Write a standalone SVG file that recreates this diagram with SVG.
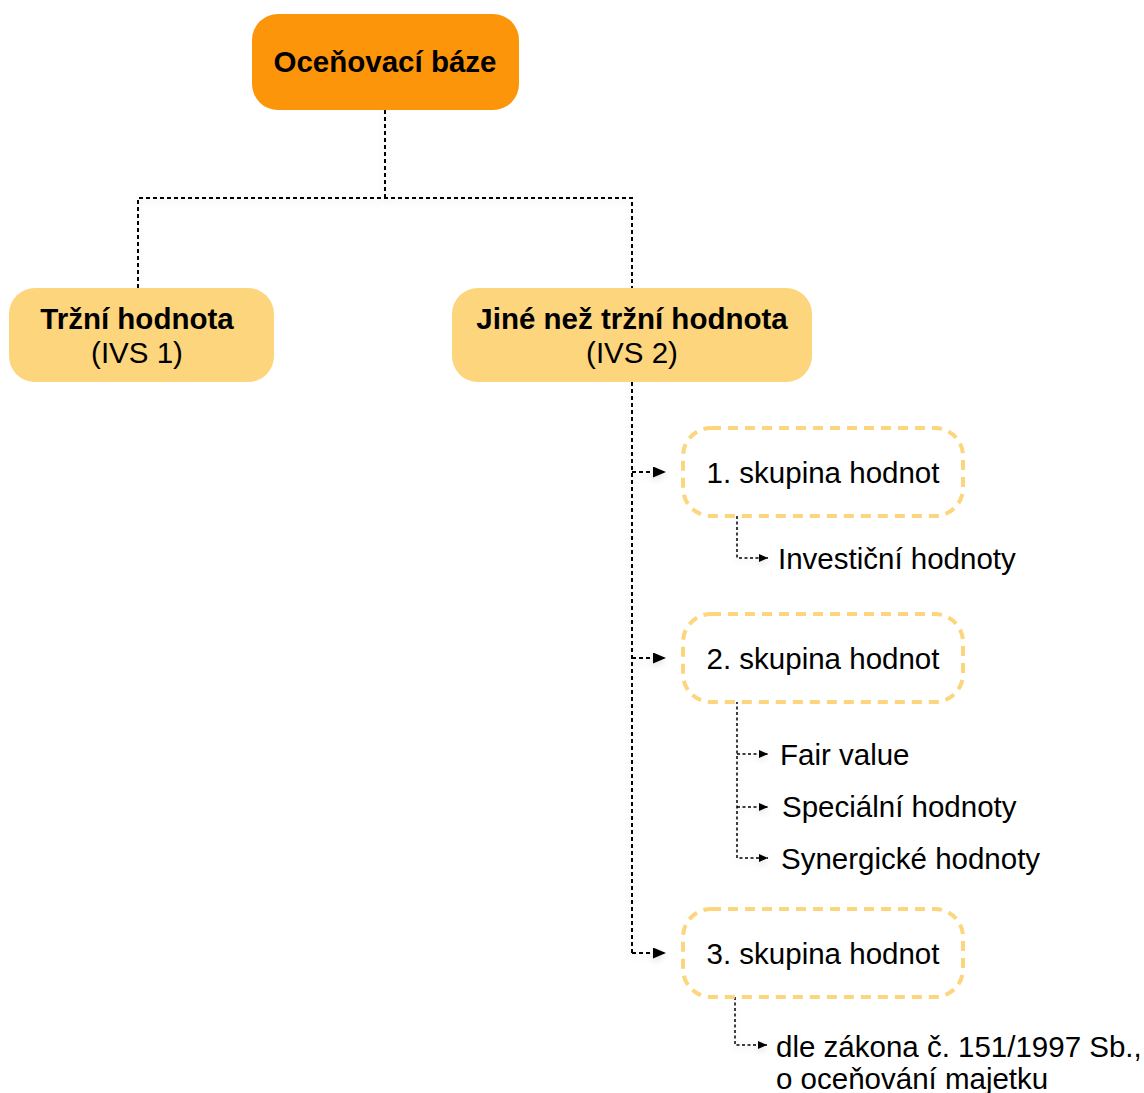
<svg xmlns="http://www.w3.org/2000/svg" width="1144" height="1093" viewBox="0 0 1144 1093">
  <style>
    text { font-family: "Liberation Sans", Arial, Helvetica, sans-serif; fill: #000; font-size: 29.5px; }
    .bold { font-weight: bold; }
    .mid { text-anchor: middle; }
    .solid-main { fill: #FD950A; }
    .solid-sub { fill: #FCD57C; }
    .group-box { fill: #fff; stroke: #FCD57C; stroke-width: 4; stroke-dasharray: 10 7; }
    .link { fill: none; stroke: #000; stroke-width: 2; stroke-dasharray: 4 3; }
    .link-thin { fill: none; stroke: #000; stroke-width: 1.5; stroke-dasharray: 3 2.5; }
  </style>
  <defs>
    <filter id="soft" x="-20%" y="-20%" width="140%" height="140%">
      <feDropShadow dx="0" dy="3" stdDeviation="3" flood-color="#000" flood-opacity="0.12"/>
    </filter>
    <marker id="head" viewBox="0 0 13 11" refX="13" refY="5.5" markerWidth="13" markerHeight="11" markerUnits="userSpaceOnUse" orient="auto">
      <path d="M0,0 L13,5.5 L0,11 Z" fill="#000"/>
    </marker>
    <marker id="head-sm" viewBox="0 0 9 8" refX="9" refY="4" markerWidth="9" markerHeight="8" markerUnits="userSpaceOnUse" orient="auto">
      <path d="M0,0 L9,4 L0,8 Z" fill="#000"/>
    </marker>
  </defs>

  <!-- connectors -->
  <g id="connectors" filter="url(#soft)">
    <path class="link" d="M385,110 V198 M138,288 V198 H632 V288"/>
    <path class="link" d="M632,382 V953"/>
    <path class="link" d="M632,472 H666" marker-end="url(#head)"/>
    <path class="link" d="M632,658 H666" marker-end="url(#head)"/>
    <path class="link" d="M632,953 H666" marker-end="url(#head)"/>
    <path class="link-thin" d="M737,516 V558 H768" marker-end="url(#head-sm)"/>
    <path class="link-thin" d="M737,701 V858 H768" marker-end="url(#head-sm)"/>
    <path class="link-thin" d="M737,754 H768" marker-end="url(#head-sm)"/>
    <path class="link-thin" d="M737,807 H768" marker-end="url(#head-sm)"/>
    <path class="link-thin" d="M735,997 V1045 H767" marker-end="url(#head-sm)"/>
  </g>

  <!-- root -->
  <g id="node-ocenovaci-baze">
    <rect class="solid-main" x="252" y="14" width="267" height="96" rx="26"/>
    <text class="bold mid" x="385" y="72">Oceňovací báze</text>
  </g>

  <!-- first level -->
  <g id="node-trzni-hodnota">
    <rect class="solid-sub" x="9" y="288" width="265" height="94" rx="26"/>
    <text class="bold mid" x="137" y="329">Tržní hodnota</text>
    <text class="mid" x="137" y="363">(IVS 1)</text>
  </g>
  <g id="node-jine-nez-trzni">
    <rect class="solid-sub" x="452" y="288" width="360" height="94" rx="26"/>
    <text class="bold mid" x="632" y="329">Jiné než tržní hodnota</text>
    <text class="mid" x="632" y="363">(IVS 2)</text>
  </g>

  <!-- value groups -->
  <g id="node-skupina-1">
    <rect class="group-box" x="683" y="428" width="280" height="88" rx="28"/>
    <text class="mid" x="823" y="483">1. skupina hodnot</text>
  </g>
  <g id="node-skupina-2">
    <rect class="group-box" x="683" y="614" width="280" height="88" rx="28"/>
    <text class="mid" x="823" y="669">2. skupina hodnot</text>
  </g>
  <g id="node-skupina-3">
    <rect class="group-box" x="683" y="909" width="280" height="88" rx="28"/>
    <text class="mid" x="823" y="964">3. skupina hodnot</text>
  </g>

  <!-- leaf items -->
  <g id="node-investicni"><text x="778" y="569">Investiční hodnoty</text></g>
  <g id="node-fair-value"><text x="780" y="765">Fair value</text></g>
  <g id="node-specialni"><text x="782" y="817">Speciální hodnoty</text></g>
  <g id="node-synergicke"><text x="781" y="869">Synergické hodnoty</text></g>
  <g id="node-zakon">
    <text x="776" y="1057">dle zákona č. 151/1997 Sb.,</text>
    <text x="776" y="1089">o oceňování majetku</text>
  </g>
</svg>
